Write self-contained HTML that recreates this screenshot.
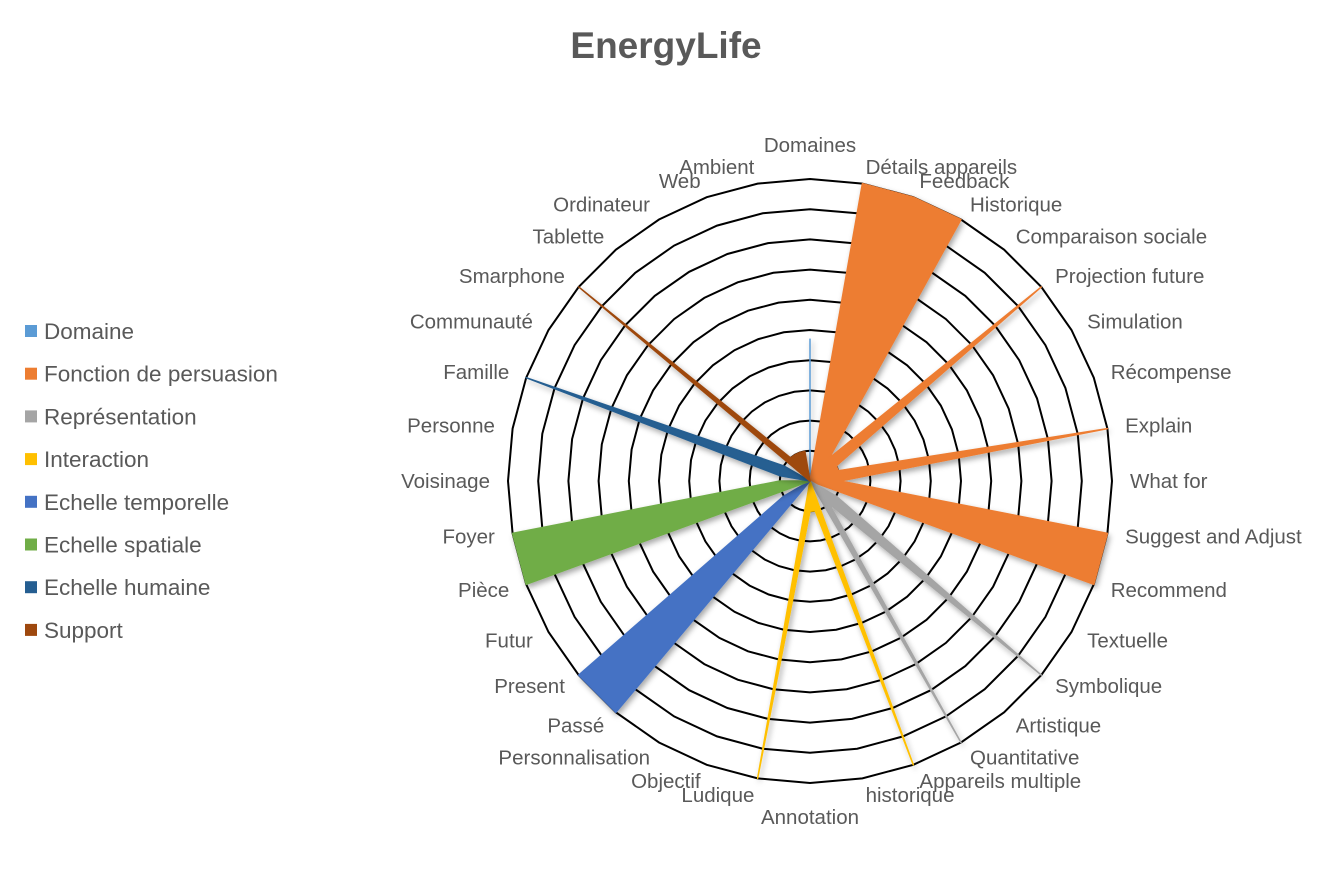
<!DOCTYPE html>
<html><head><meta charset="utf-8"><style>
body{margin:0;background:#fff;}
svg{display:block;font-family:"Liberation Sans",sans-serif;}
</style></head><body>
<svg id="chart" width="1333" height="889" viewBox="0 0 1333 889">
<defs><filter id="sh" filterUnits="userSpaceOnUse" x="0" y="0" width="1333" height="889"><feDropShadow dx="2" dy="3" stdDeviation="3" flood-color="#000" flood-opacity="0.35"/></filter></defs>
<text x="666" y="58" text-anchor="middle" font-size="37" font-weight="bold" fill="#595959">EnergyLife</text>
<g id="grid"></g>
<g id="series"></g>
<g id="labels"></g>
<g id="legend"></g>
</svg>
<script>
const categories=["Domaines","Détails appareils","Feedback","Historique","Comparaison sociale","Projection future","Simulation","Récompense","Explain","What for","Suggest and Adjust","Recommend","Textuelle","Symbolique","Artistique","Quantitative","Appareils multiple","historique","Annotation","Ludique","Objectif","Personnalisation","Passé","Present","Futur","Pièce","Foyer","Voisinage","Personne","Famille","Communauté","Smarphone","Tablette","Ordinateur","Web","Ambient"];
const seriesNames=["Domaine","Fonction de persuasion","Représentation","Interaction","Echelle temporelle","Echelle spatiale","Echelle humaine","Support"];
const seriesColors=["#5B9BD5","#ED7D31","#A5A5A5","#FFC000","#4472C4","#70AD47","#255E91","#9E480E"];
const domaine=[[0,4.7]];
const persuasion=[[1,10],[2,10],[3,10],[4,1],[5,10],[6,1],[7,1],[8,10],[9,1],[10,10],[11,10]];
const representation=[[12,1],[13,10],[14,1],[15,10]];
const interaction=[[16,10],[17,1],[18,1],[19,10],[20,0],[21,0]];
const temporelle=[[22,10],[23,10],[24,1]];
const spatiale=[[25,10],[26,10],[27,1]];
const humaine=[[28,1],[29,10],[30,1]];
const support=[[31,10],[32,1],[33,1],[34,1],[35,1]];
const seriesData=[domaine,persuasion,representation,interaction,temporelle,spatiale,humaine,support];
const maxVal=10, rings=10;
const cx=810, cy=481, R=302, N=categories.length;
const NS="http://www.w3.org/2000/svg";
function ang(i){return i*2*Math.PI/N;}
function px(i,v){return cx+R*(v/maxVal)*Math.sin(ang(i));}
function py(i,v){return cy-R*(v/maxVal)*Math.cos(ang(i));}
function mk(t,a){const e=document.createElementNS(NS,t);for(const k in a)e.setAttribute(k,a[k]);return e;}
const grid=document.getElementById('grid');
for(let r=1;r<=rings;r++){
  const v=maxVal*r/rings;let pts=[];
  for(let i=0;i<N;i++)pts.push(px(i,v).toFixed(1)+","+py(i,v).toFixed(1));
  const p=mk('polygon',{points:pts.join(' '),fill:'none',stroke:'#000','stroke-width':2});
  
  
  grid.appendChild(p);
}
const sg=document.getElementById('series');
seriesData.forEach((d,s)=>{
  const vals=new Array(N).fill(0);
  d.forEach(([i,v])=>vals[i]=v);
  let pts=[];for(let i=0;i<N;i++)pts.push(px(i,vals[i]).toFixed(1)+","+py(i,vals[i]).toFixed(1));
  const p=mk('polygon',{points:pts.join(' '),fill:seriesColors[s],stroke:seriesColors[s],'stroke-width':1.5,'stroke-linejoin':'round',filter:'url(#sh)'});
  
  
  sg.appendChild(p);
});
const lg=document.getElementById('labels');
categories.forEach((c,i)=>{
  const s=Math.sin(ang(i)),co=Math.cos(ang(i));
  const x=cx+(R+18)*s;
  let y=cy-(R+17)*co;
  const anchor=s>0.05?'start':(s<-0.05?'end':'middle');
  if(anchor==='middle')y-=17*Math.sign(co);
  const t=mk('text',{x:x.toFixed(1),y:(y+7).toFixed(1),'text-anchor':anchor,'font-size':20.5,fill:'#595959'});
  t.textContent=c;
  
  
  lg.appendChild(t);
});
const leg=document.getElementById('legend');
seriesNames.forEach((n,k)=>{
  const y=331+k*42.7;
  const r=mk('rect',{x:25,y:y-6,width:12,height:12,fill:seriesColors[k]});
  
  
  leg.appendChild(r);
  const t=mk('text',{x:44,y:y+8,'font-size':22.5,fill:'#595959'});
  t.textContent=n;
  
  
  leg.appendChild(t);
});
</script>
</body></html>
